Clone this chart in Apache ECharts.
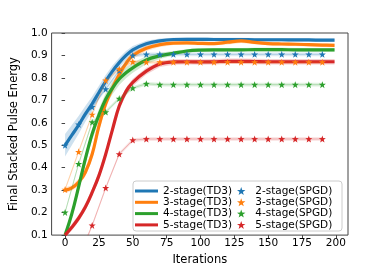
<!DOCTYPE html>
<html><head><meta charset="utf-8">
<script src="https://cdn.jsdelivr.net/npm/echarts@6/dist/echarts.min.js"></script>
<style>html,body{margin:0;padding:0;background:#fff}#c{width:387px;height:271px}</style>
</head><body><div id="c"></div>
<script>
// ---- data ----
const stageNames = ['2-stage', '3-stage', '4-stage', '5-stage'];
const xTicks = [0, 25, 50, 75, 100, 125, 150, 175, 200];

const td3Iters = [0, 5, 10, 15, 20, 25, 30, 35, 40, 45, 50, 60, 70, 80, 90, 100, 110, 120, 130, 140, 150, 160, 170, 180, 190, 199];
const td3Stage2 = [0.50, 0.545, 0.59, 0.64, 0.685, 0.735, 0.785, 0.83, 0.868, 0.90, 0.925, 0.952, 0.965, 0.971, 0.972, 0.972, 0.971, 0.971, 0.971, 0.970, 0.970, 0.970, 0.969, 0.969, 0.968, 0.968];
const td3Stage3 = [0.30, 0.31, 0.335, 0.38, 0.46, 0.585, 0.685, 0.755, 0.815, 0.865, 0.90, 0.932, 0.948, 0.955, 0.956, 0.954, 0.953, 0.959, 0.965, 0.958, 0.953, 0.951, 0.950, 0.948, 0.946, 0.945];
const td3Stage4 = [0.10, 0.195, 0.315, 0.44, 0.55, 0.635, 0.705, 0.755, 0.795, 0.823, 0.845, 0.88, 0.898, 0.91, 0.92, 0.924, 0.925, 0.925, 0.925, 0.926, 0.926, 0.926, 0.925, 0.925, 0.925, 0.925];
const td3Stage5 = [0.10, 0.135, 0.175, 0.225, 0.29, 0.365, 0.46, 0.57, 0.675, 0.74, 0.78, 0.83, 0.862, 0.871, 0.872, 0.871, 0.872, 0.874, 0.874, 0.873, 0.872, 0.872, 0.872, 0.872, 0.872, 0.872];
// half width of the shaded spread around each TD3 curve
const td3Spread2 = [0.05, 0.045, 0.04, 0.035, 0.032, 0.03, 0.028, 0.025, 0.022, 0.02, 0.017, 0.013, 0.01, 0.008, 0.008, 0.008, 0.008, 0.008, 0.008, 0.008, 0.008, 0.008, 0.008, 0.008, 0.008, 0.008];
const td3Spread3 = [0.012, 0.012, 0.015, 0.018, 0.02, 0.022, 0.022, 0.02, 0.02, 0.018, 0.015, 0.012, 0.01, 0.008, 0.008, 0.008, 0.008, 0.01, 0.01, 0.008, 0.008, 0.008, 0.008, 0.008, 0.008, 0.008];
const td3Spread4 = [0.01, 0.015, 0.02, 0.022, 0.025, 0.027, 0.028, 0.028, 0.027, 0.025, 0.022, 0.018, 0.014, 0.01, 0.008, 0.008, 0.008, 0.008, 0.008, 0.008, 0.008, 0.008, 0.008, 0.008, 0.008, 0.008];
const td3Spread5 = [0.012, 0.014, 0.015, 0.016, 0.017, 0.018, 0.018, 0.018, 0.018, 0.017, 0.016, 0.015, 0.013, 0.012, 0.012, 0.012, 0.012, 0.012, 0.012, 0.012, 0.012, 0.012, 0.012, 0.012, 0.012, 0.012];

const spgdIters = [0, 10, 20, 30, 40, 50, 60, 70, 80, 90, 100, 110, 120, 130, 140, 150, 160, 170, 180, 190];
const spgdStage2 = [0.50, 0.593, 0.671, 0.75, 0.833, 0.90, 0.905, 0.905, 0.905, 0.905, 0.905, 0.905, 0.905, 0.905, 0.905, 0.905, 0.905, 0.905, 0.905, 0.905];
const spgdStage3 = [0.303, 0.471, 0.637, 0.789, 0.839, 0.872, 0.870, 0.870, 0.870, 0.870, 0.870, 0.870, 0.870, 0.870, 0.870, 0.870, 0.870, 0.870, 0.870, 0.870];
const spgdStage4 = [0.201, 0.417, 0.603, 0.648, 0.708, 0.755, 0.774, 0.770, 0.770, 0.770, 0.770, 0.770, 0.770, 0.770, 0.770, 0.770, 0.770, 0.770, 0.770, 0.770];
const spgdStage5 = [0.0, 0.0, 0.143, 0.31, 0.461, 0.523, 0.528, 0.528, 0.528, 0.528, 0.528, 0.528, 0.528, 0.528, 0.528, 0.528, 0.528, 0.528, 0.528, 0.528];
const spgdSpread = [0.008, 0.008, 0.008, 0.008, 0.008, 0.008, 0.008, 0.008, 0.008, 0.008, 0.008, 0.008, 0.008, 0.008, 0.008, 0.008, 0.008, 0.008, 0.008, 0.008];

// ---- styling ----
const colors = ['#1f77b4', '#ff7f0e', '#2ca02c', '#d62728'];
const FONT = 'DejaVu Sans';
const STAR = 'path://M0,-10 L2.35,-3.24 L9.51,-3.09 L3.8,1.24 L5.88,8.09 L0,4 L-5.88,8.09 L-3.8,1.24 L-9.51,-3.09 L-2.35,-3.24 Z';

const td3Means = [td3Stage2, td3Stage3, td3Stage4, td3Stage5];
const td3Spreads = [td3Spread2, td3Spread3, td3Spread4, td3Spread5];
const spgdMeans = [spgdStage2, spgdStage3, spgdStage4, spgdStage5];

function band(xs, mean, hw, color, opacity, z, smooth) {
  return {
    type: 'custom', silent: true, z: z, data: [0],
    renderItem: function (params, api) {
      const up = xs.map((x, k) => api.coord([x, mean[k] + hw[k]]));
      const lo = xs.map((x, k) => api.coord([x, mean[k] - hw[k]])).reverse();
      const cs = params.coordSys;
      const clip = { type: 'rect', shape: { x: cs.x, y: cs.y, width: cs.width, height: cs.height } };
      return {
        type: 'group',
        clipPath: clip,
        children: [{
          type: 'polygon',
          shape: { points: up.concat(lo), smooth: smooth },
          style: { fill: color, opacity: opacity }
        }]
      };
    }
  };
}

const series = [];
for (let i = 0; i < 4; i++) {
  series.push(band(td3Iters, td3Means[i], td3Spreads[i], colors[i], 0.22, 1, 0));
  series.push({
    type: 'line', name: stageNames[i] + '(TD3)',
    data: td3Iters.map((x, k) => [x, td3Means[i][k]]),
    symbol: 'none', smooth: 0.4,
    lineStyle: { color: colors[i], width: 3.2 }, itemStyle: { color: colors[i] }, z: 2
  });
}
for (let i = 0; i < 4; i++) {
  series.push(band(spgdIters, spgdMeans[i], spgdSpread, colors[i], 0.15, 1, 0));
  series.push({
    type: 'line', name: stageNames[i] + '(SPGD)',
    data: spgdIters.map((x, k) => [x, spgdMeans[i][k]]),
    symbol: STAR, symbolSize: 7, showSymbol: true,
    lineStyle: { color: colors[i], width: 1, opacity: 0.25 },
    itemStyle: { color: colors[i], opacity: 1 }, z: 3
  });
}

const chart = echarts.init(document.getElementById('c'), null, { renderer: 'canvas' });
chart.setOption({
  animation: false,
  backgroundColor: '#fff',
  textStyle: { fontFamily: FONT },
  grid: { left: 48, right: 39, top: 33, bottom: 34, show: true, borderColor: '#444', borderWidth: 1, backgroundColor: 'transparent' },
  xAxis: {
    type: 'value', min: -9.95, max: 208.95,
    axisLine: { show: false }, splitLine: { show: false },
    axisTick: { show: true, length: 3.5, lineStyle: { color: '#444' }, customValues: xTicks },
    axisLabel: { customValues: xTicks, fontSize: 10.5, color: '#000', margin: 3, fontFamily: FONT },
    name: 'Iterations', nameLocation: 'middle', nameGap: 15,
    nameTextStyle: { fontSize: 11.5, color: '#000', fontFamily: FONT }
  },
  yAxis: {
    type: 'value', min: 0.1, max: 1.0, interval: 0.1,
    axisLine: { show: false }, splitLine: { show: false },
    axisTick: { show: true, length: 3.5, lineStyle: { color: '#444' } },
    axisLabel: { fontSize: 10.5, color: '#000', margin: 4, fontFamily: FONT, formatter: v => v.toFixed(1) },
    name: 'Final Stacked Pulse Energy', nameLocation: 'middle', nameGap: 23,
    nameTextStyle: { fontSize: 11.5, color: '#000', fontFamily: FONT }
  },
  graphic: [{
    type: 'rect', z: 3, silent: true,
    shape: { x: 133, y: 181, width: 209, height: 50, r: 3 },
    style: { fill: 'rgba(255,255,255,0.8)', stroke: '#cccccc', lineWidth: 1 }
  }],
  legend: [{
    data: stageNames.map(s => ({ name: s + '(TD3)', icon: 'rect' })),
    orient: 'vertical', left: 135, top: 185.5, padding: 0, itemGap: 0.3,
    itemWidth: 23, itemHeight: 3,
    textStyle: { fontSize: 10.5, color: '#000', fontFamily: FONT, lineHeight: 10 },
    selectedMode: false, z: 5
  }, {
    data: stageNames.map(s => ({ name: s + '(SPGD)', icon: STAR })),
    orient: 'vertical', left: 237, top: 185.5, padding: 0, itemGap: 0.3,
    itemWidth: 18, itemHeight: 8,
    textStyle: { fontSize: 10.5, color: '#000', fontFamily: FONT, lineHeight: 10 },
    selectedMode: false, z: 5
  }],
  series: series
});
</script>
</body></html>
